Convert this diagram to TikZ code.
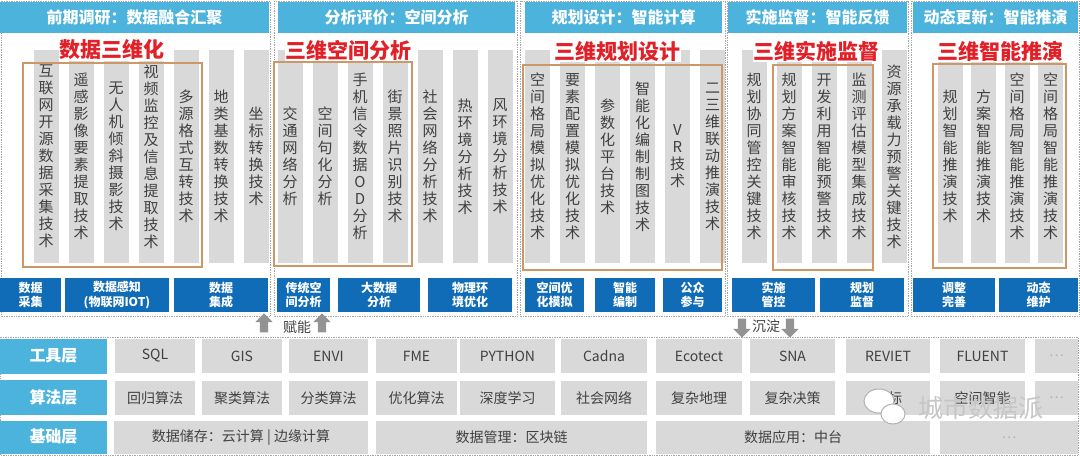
\documentclass[tikz,border=0pt]{standalone}
\usepackage{fontspec}
\setmainfont{Noto Sans CJK SC}
\usetikzlibrary{shapes.arrows}

\definecolor{hdblue}{RGB}{76,179,221}
\definecolor{boxblue}{RGB}{16,108,183}
\definecolor{cellgray}{RGB}{217,217,217}
\definecolor{txtgray}{RGB}{64,64,64}
\definecolor{orangeline}{RGB}{204,152,104}
\definecolor{titlered}{RGB}{226,32,40}

% one glyph per line
\newcommand\vt[1]{\expandafter\vtfirst#1\relax}
\def\vtfirst#1{#1\vtloop}
\def\vtloop#1{\ifx#1\relax\else\\#1\expandafter\vtloop\fi}

\begin{document}
\begin{tikzpicture}[x=1pt,y=-1pt,
  strip/.style={fill=cellgray,text=txtgray,minimum width=25,minimum height=213,text width=16,align=center,inner sep=0,font=\fontsize{15}{17}\selectfont},
  colhead/.style={fill=hdblue,text=white,minimum height=31,inner sep=0,font=\fontsize{16}{16}\selectfont\bfseries},
  bbox/.style={fill=boxblue,text=white,minimum height=34,inner sep=0,align=center,font=\fontsize{12}{14.5}\selectfont\bfseries},
  redtitle/.style={fill=white,text=titlered,inner sep=0.5,font=\fontsize{21}{21}\selectfont\bfseries},
  orangebox/.style={draw=orangeline,line width=2.2},
  colframe/.style={draw=gray!70,densely dotted,line width=0.7},
  layerlbl/.style={fill=hdblue,text=white,minimum width=107,inner sep=0,font=\fontsize{16}{16}\selectfont\bfseries},
  cell/.style={fill=cellgray,text=txtgray,inner sep=0,font=\fontsize{14}{14}\selectfont},
  more/.style={cell,text=gray!60},
  arr/.style={single arrow,fill=gray!85,inner sep=4,single arrow head extend=4.5,minimum height=19},
  note/.style={text=txtgray,inner sep=0,font=\fontsize{14}{14}\selectfont}]
\useasboundingbox (0,0) rectangle (1080,456);

% five stages
\foreach \l/\r in {1/270,274/517,520/725,727/908,911/1079}
  \draw[colframe] (\l,1) rectangle (\r,316);
\foreach \l/\r/\txt [count=\i] in {0/269/前期调研：数据融合汇聚,278/515/分析评价：空间分析,
    525/722/规划设计：智能计算,728/907/实施监督：智能反馈,913/1078/动态更新：智能推演}
  \node[colhead,minimum width={\r-\l}] (h\i) at ({(\l+\r)/2},17.5) {\txt};

\foreach \txt [count=\i] in {互联网开源数据采集技术,遥感影像要素提取技术,无人机倾斜摄影技术,
    视频监控及信息提取技术,多源格式互转技术,地类基数转换技术,坐标转换技术}
  \node[strip] (sa\i) at ({11+35*\i},156.5) {\vt\txt};
\foreach \txt [count=\i] in {交通网络分析,空间句化分析,手机信令数据OD分析,街景照片识别技术,
    社会网络分析技术,热环境分析技术,风环境分析技术}
  \node[strip] (sb\i) at ({255+35*\i},156.5) {\vt\txt};
\foreach \txt [count=\i] in {空间格局模拟优化技术,要素配置模拟优化技术,参数化平台技术,
    智能化编制制图技术,VR技术,二三维联动推演技术}
  \node[strip] (sc\i) at ({502.5+35*\i},156.5) {\vt\txt};
\foreach \txt [count=\i] in {规划协同管控关键技术,规划方案智能审核技术,开发利用智能预警技术,
    监测评估模型集成技术,资源承载力预警关键技术}
  \node[strip] (sd\i) at ({719+35*\i},156.5) {\vt\txt};
\foreach \txt [count=\i] in {规划智能推演技术,方案智能推演技术,空间格局智能推演技术,空间格局智能推演技术}
  \node[strip] (se\i) at ({916.5+33.5*\i},156.5) {\vt\txt};

\draw[orangebox] (23,63) rectangle (202,267);
\draw[orangebox] (274,62) rectangle (412,266);
\draw[orangebox] (523,65) rectangle (722,270);
\draw[orangebox] (773,65) rectangle (873,270);
\draw[orangebox] (933,64) rectangle (1066,268);

\foreach \x/\y/\txt [count=\i] in {112/50/数据三维化,348/50/三维空间分析,617/51/三维规划设计,
    816/51/三维实施监督,1000/51/三维智能推演}
  \node[redtitle] (t\i) at (\x,\y) {\txt};

\foreach \l/\r/\txt [count=\i] in {0/61/数据\\采集,65/169/数据感知\\(物联网IOT),174/268/数据\\集成,
    277/330/传统空\\间分析,338/420/大数据\\分析,428/512/物理环\\境优化,
    525/584/空间优\\化模拟,595/655/智能\\编制,663/722/公众\\参与,
    732/815/实施\\管控,820/904/规划\\监督,913/995/调整\\完善,999/1078/动态\\维护}
  \node[bbox,minimum width={\r-\l}] (k\i) at ({(\l+\r)/2},295) {\txt};

% up / down
\node[arr,shape border rotate=90] (up1) at (264,325) {};
\node[note] (fn) at (297,327) {赋能};
\node[arr,shape border rotate=90] (up2) at (322,325) {};
\node[arr,shape border rotate=270] (dn1) at (742,326) {};
\node[note] (cd) at (766,326) {沉淀};
\node[arr,shape border rotate=270] (dn2) at (790,326) {};

% layers
\draw[colframe] (0,337) rectangle (1078,455);
\node[layerlbl,minimum height=35] (l1) at (53.5,356) {工具层};
\node[layerlbl,minimum height=35] (l2) at (53.5,397.5) {算法层};
\node[layerlbl,minimum height=33] (l3) at (53.5,437) {基础层};

\foreach \l/\r/\txt [count=\i] in {115/195/SQL,202/282/GIS,289/368/ENVI,376/457/FME,460/555/PYTHON,
    561/647/Cadna,656/742/Ecotect,750/835/SNA,846/930/REVIET,940/1025/FLUENT}
  \node[cell,minimum width={\r-\l},minimum height=34] (tl\i) at ({(\l+\r)/2},356) {\txt};
\node[more,minimum width=43,minimum height=34] (tl11) at (1056.5,356) {…};

\foreach \l/\r/\txt [count=\i] in {115/195/回归算法,202/282/聚类算法,289/368/分类算法,376/457/优化算法,
    460/555/深度学习,561/647/社会网络,656/742/复杂地理,750/835/复杂决策,846/930/指标,940/1025/空间智能}
  \node[cell,minimum width={\r-\l},minimum height=34] (al\i) at ({(\l+\r)/2},398) {\txt};
\node[more,minimum width=43,minimum height=34] (al11) at (1056.5,398) {…};

\node[cell,minimum width=254,minimum height=33] (bs1) at (241,437.5) {数据储存：云计算 | 边缘计算};
\node[cell,minimum width=271,minimum height=33] (bs2) at (511.5,437.5) {数据管理：区块链};
\node[cell,minimum width=274,minimum height=33] (bs3) at (793,437.5) {数据应用：中台};
\node[more,minimum width=138,minimum height=33] (bs4) at (1009,437.5) {…};

% watermark
\draw[gray!60,fill=white,line width=1] (879,401) ellipse (15 and 12);
\draw[gray!60,fill=white,line width=1] (893,414) ellipse (12 and 10);
\node[text=gray!45,inner sep=0,font=\fontsize{25}{25}\selectfont] (wm) at (981,408) {城市数据派};
\end{tikzpicture}
\end{document}
